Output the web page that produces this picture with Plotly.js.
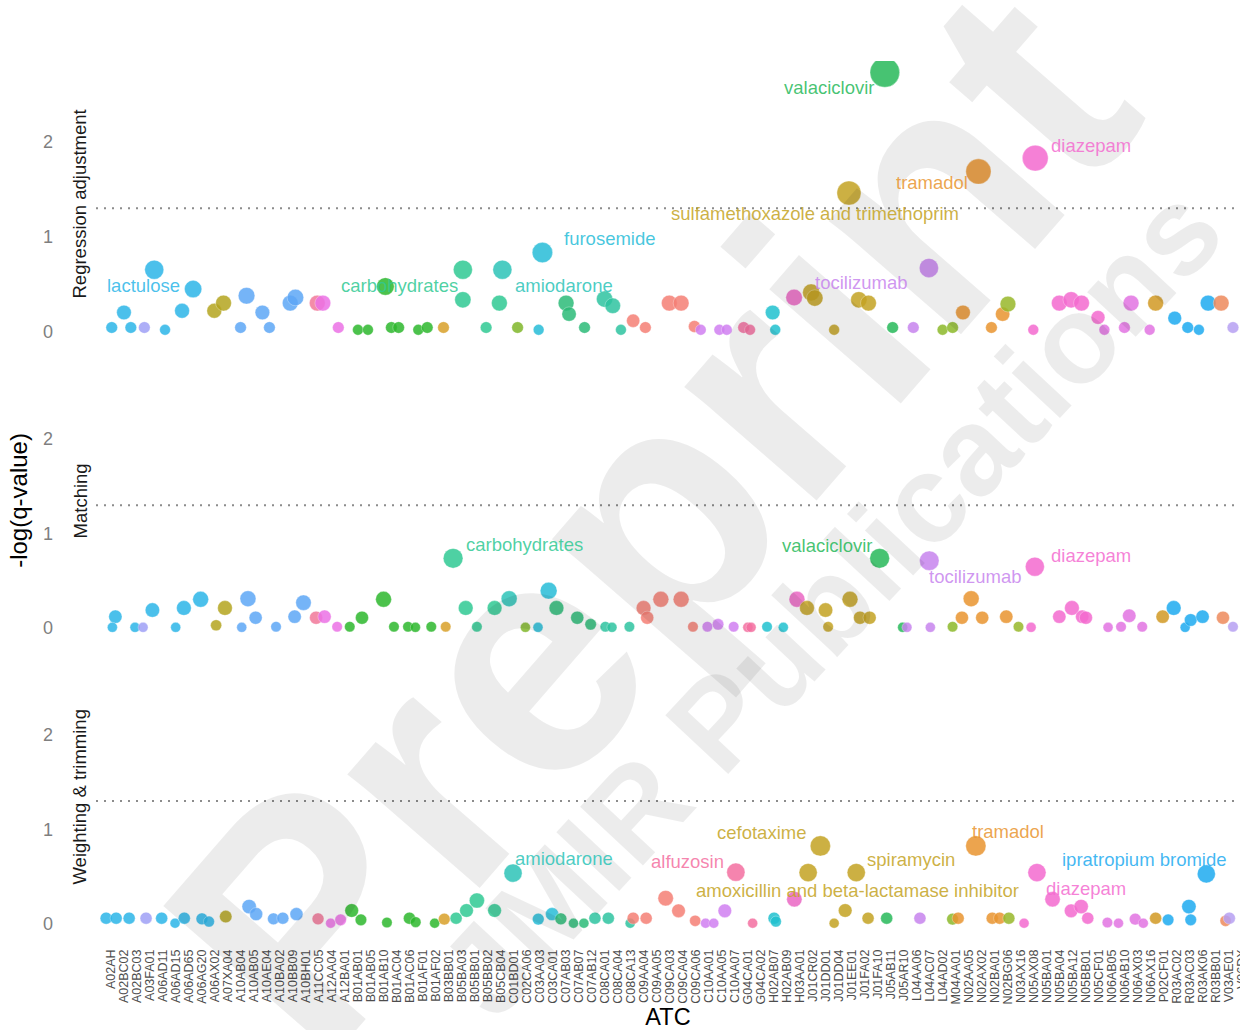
<!DOCTYPE html>
<html>
<head>
<meta charset="utf-8">
<script src="https://cdn.plot.ly/plotly-3.0.1.min.js"></script>
<style>
html,body{margin:0;padding:0;background:#ffffff;}
#chart{width:1240px;height:1030px;}
</style>
</head>
<body>
<div id="chart"></div>
<script>
// ---------- categories (ATC codes on the x axis) ----------
const atcCodes = ['A02AH','A02BC02','A02BC03','A03FA01','A06AD11','A06AD15','A06AD65','A06AG20','A06AX02','A07XA04',
  'A10AB04','A10AB05','A10AE04','A10BA02','A10BB09','A10BH01','A11CC05','A12AA04','A12BA01','B01AB01',
  'B01AB05','B01AB10','B01AC04','B01AC06','B01AF01','B01AF02','B03BB01','B05BA03','B05BB01','B05BB02',
  'B05CB04','C01BD01','C02CA06','C03AA03','C03CA01','C07AB03','C07AB07','C07AB12','C08CA01','C08CA04',
  'C08CA13','C09AA04','C09AA05','C09CA03','C09CA04','C09CA06','C10AA01','C10AA05','C10AA07','G04CA01',
  'G04CA02','H02AB07','H02AB09','H03AA01','J01CR02','J01DD01','J01DD04','J01EE01','J01FA02','J01FA10',
  'J05AB11','J05AR10','L04AA06','L04AC07','L04AD02','M04AA01','N02AA05','N02AX02','N02BA01','N02BG06',
  'N03AX16','N05AX08','N05BA01','N05BA04','N05BA12','N05BB01','N05CF01','N06AB05','N06AB10','N06AX03',
  'N06AX16','P02CF01','R03AC02','R03AC03','R03AK06','R03BB01','V03AE01','V06DX'];

const panelNames = ['Regression adjustment','Matching','Weighting & trimming'];
const threshold = 1.30; // -log10(0.05)

// ---------- Regression adjustment: jittered category position and -log(q) ----------
const regX = [0.61,2.08,3.12,4.71,1.55,3.88,6.87,6.02,8.50,9.21,10.98,10.52,12.20,12.74,14.34,14.74,16.42,16.85,18.04,19.55,
  20.32,22.12,22.68,21.66,24.19,24.88,26.13,27.62,27.62,29.41,30.66,30.43,31.83,33.45,33.74,35.56,35.79,36.98,38.52,39.15,
  39.78,40.72,41.66,
  43.50,44.41,45.43,45.92,47.35,47.92,49.22,49.71,51.45,51.65,53.10,54.41,54.69,56.18,57.32,58.08,58.82,60.08,60.68,62.27,
  63.47,64.52,65.29,66.09,67.28,68.28,69.14,69.55,71.50,71.65,73.50,74.41,75.21,76.48,76.97,78.51,79.02,80.45,80.91,82.38,
  83.38,84.24,84.95,85.95,86.86];
const regY = [0.045,0.045,0.045,0.021,0.203,0.653,0.450,0.221,0.221,0.302,0.379,0.045,0.203,0.045,0.302,0.361,0.302,0.302,0.045,0.021,
  0.021,0.045,0.045,0.477,0.021,0.045,0.045,0.653,0.337,0.045,0.653,0.302,0.045,0.021,0.834,0.302,0.186,0.045,0.344,0.274,
  0.021,0.116,0.045,
  0.302,0.302,0.056,0.021,0.021,0.021,0.045,0.021,0.203,0.021,0.361,0.414,0.355,0.021,1.460,0.337,0.302,2.730,0.045,0.045,
  0.671,0.021,0.045,0.203,1.687,0.045,0.186,0.292,0.021,1.828,0.302,0.337,0.302,0.151,0.021,0.045,0.302,0.021,0.302,0.144,
  0.045,0.021,0.302,0.302,0.045];

// ---------- Matching ----------
const matX = [0.89,0.66,2.40,3.02,3.74,5.53,6.16,7.45,8.64,9.32,10.61,11.09,11.68,13.25,14.68,15.36,16.33,16.98,17.95,18.92,
  19.86,21.52,22.32,23.40,23.97,25.19,26.30,26.87,27.84,28.70,30.06,31.18,32.43,33.40,34.22,34.82,36.42,37.45,38.58,39.09,
  40.43,41.52,41.80,42.85,
  44.41,45.32,46.43,47.25,48.45,49.54,49.79,51.02,52.27,53.32,54.09,55.52,55.72,57.40,58.17,58.91,59.68,61.45,61.78,63.50,
  63.58,65.29,66.01,66.72,67.57,69.42,70.36,71.33,71.62,73.50,74.47,75.26,75.55,77.25,78.25,78.88,79.88,81.45,82.30,83.18,
  83.61,84.52,86.09,86.86];
const matY = [0.120,0.007,0.007,0.007,0.190,0.007,0.212,0.304,0.029,0.212,0.007,0.310,0.109,0.014,0.120,0.268,0.109,0.120,0.014,0.014,
  0.109,0.304,0.014,0.014,0.007,0.014,0.014,0.738,0.212,0.014,0.212,0.310,0.007,0.007,0.395,0.212,0.109,0.039,0.014,0.007,
  0.014,0.212,0.109,0.304,
  0.304,0.014,0.014,0.039,0.014,0.007,0.007,0.014,0.007,0.304,0.212,0.190,0.014,0.304,0.109,0.109,0.738,0.007,0.007,0.712,
  0.007,0.014,0.109,0.310,0.109,0.120,0.014,0.007,0.649,0.120,0.212,0.120,0.109,0.007,0.014,0.130,0.014,0.120,0.212,0.007,
  0.085,0.120,0.109,0.014];

// ---------- Weighting & trimming ----------
const wtX = [0.18,0.95,1.95,3.25,4.45,5.48,6.19,7.55,8.09,9.38,11.18,11.72,13.05,13.77,14.82,16.48,17.45,18.22,19.07,19.78,
  21.78,23.51,23.99,25.45,26.19,27.10,27.90,28.70,30.06,31.48,33.42,34.48,35.16,36.13,36.93,37.78,38.81,40.49,40.72,41.72,
  43.22,
  44.21,45.49,46.29,46.92,47.77,48.62,49.91,51.56,51.70,53.12,55.12,54.18,56.18,57.03,57.88,58.79,60.22,62.78,65.29,65.72,
  67.08,68.34,68.91,69.62,70.79,71.78,72.98,74.41,75.18,75.69,77.20,78.05,79.34,79.96,80.91,81.87,83.47,83.61,84.81,86.29,
  86.58];
const wtY = [0.060,0.060,0.060,0.060,0.060,0.007,0.060,0.053,0.024,0.077,0.183,0.103,0.053,0.060,0.103,0.053,0.007,0.042,0.141,0.042,
  0.014,0.060,0.018,0.007,0.050,0.060,0.141,0.247,0.141,0.537,0.050,0.103,0.053,0.007,0.007,0.060,0.060,0.007,0.060,0.060,
  0.272,
  0.138,0.032,0.007,0.007,0.138,0.547,0.007,0.060,0.024,0.261,0.825,0.543,0.007,0.141,0.543,0.060,0.060,0.060,0.050,0.060,
  0.825,0.060,0.060,0.060,0.007,0.543,0.261,0.138,0.183,0.060,0.014,0.007,0.050,0.007,0.060,0.042,0.183,0.042,0.529,0.032,
  0.060];

// ---------- labelled drugs ----------
const regLabText = ['lactulose','carbohydrates','furosemide','amiodarone','valaciclovir','diazepam','tramadol','sulfamethoxazole and trimethoprim','tocilizumab'];
const regLabCode = ['A06AD11','B05BA03','C03CA01','C01BD01','J05AB11','N05BA01','N02AX02','J01EE01','L04AC07'];
const regLabX = [3.02,22.71,38.90,35.40,55.82,75.94,63.71,54.67,58.28];
const regLabY = [0.484,0.484,0.979,0.484,2.568,1.958,1.568,1.242,0.516];

const matLabText = ['carbohydrates','valaciclovir','tocilizumab','diazepam'];
const matLabCode = ['B05BA03','J05AB11','L04AC07','N05BA01'];
const matLabX = [32.36,55.63,67.05,75.94];
const matLabY = [0.889,0.878,0.540,0.772];

const wtLabText = ['amiodarone','alfuzosin','cefotaxime','spiramycin','amoxicillin and beta-lactamase inhibitor','tramadol','ipratropium bromide','diazepam'];
const wtLabCode = ['C01BD01','G04CA01','J01DD01','J01FA02','J01CR02','N02AX02','R03BB01','N05BA01'];
const wtLabX = [35.40,44.90,50.59,62.13,57.98,69.59,80.02,75.52];
const wtLabY = [0.688,0.656,0.963,0.677,0.349,0.974,0.677,0.370];

// ---------- style ----------
const groupColors = {
  A02:'#2cb6e8', A03:'#9fa0f6', A06:'#2cb6e8', A07:'#b4a51f', A10:'#5ea7f6', A11:'#f2789a', A12:'#ec72e6',
  B01:'#2db82d', B03:'#d9a12a', B05:'#30c993', C01:'#2dc4b8', C02:'#80b72a', C03:'#27bdd8', C07:'#2cbb78',
  C08:'#2ec4a0', C09:'#f57f75', C10:'#d17ff1', G04:'#f46fa0', H02:'#21c1cf', H03:'#ea67c4', J01:'#c4a323',
  J05:'#27b95a', L04:'#c784ee', M04:'#8cb92a', N02:'#e99530', N03:'#98b82a', N05:'#f46bd0', N06:'#e274e2',
  P02:'#d29a24', R03:'#1eabf0', V03:'#ee8a5c', V06:'#b7a0f3'
};
function codeColor(code){ return groupColors[code.slice(0,3)] || '#888888'; }
function posColor(x){
  const i = Math.max(0, Math.min(atcCodes.length-1, Math.round(x)));
  return codeColor(atcCodes[i]);
}
function rgba(hex, a){
  const n = parseInt(hex.slice(1),16);
  return 'rgba('+((n>>16)&255)+','+((n>>8)&255)+','+(n&255)+','+a+')';
}
function sizeOf(v){ return 9 + 12.5*Math.sqrt(Math.max(v,0)); }

const FONT = 'Liberation Sans, Arial, sans-serif';
const panels = [
  {x:regX, y:regY, ax:'y',  lt:regLabText, lc:regLabCode, lx:regLabX, ly:regLabY},
  {x:matX, y:matY, ax:'y2', lt:matLabText, lc:matLabCode, lx:matLabX, ly:matLabY},
  {x:wtX,  y:wtY,  ax:'y3', lt:wtLabText,  lc:wtLabCode,  lx:wtLabX,  ly:wtLabY}
];

const traces = panels.map((p, k) => ({
  type:'scatter', mode:'markers', name:panelNames[k],
  x:p.x, y:p.y, xaxis:'x', yaxis:p.ax,
  text:p.x.map(v => atcCodes[Math.max(0,Math.min(87,Math.round(v)))]),
  hovertemplate:'%{text}<br>%{y:.2f}<extra></extra>',
  marker:{
    color:p.x.map(posColor),
    size:p.y.map(sizeOf),
    opacity:0.85,
    line:{width:0.6, color:'rgba(255,255,255,0.6)'}
  },
  showlegend:false
}));

// ---------- annotations ----------
const annotations = [];
// watermark
annotations.push({xref:'paper', yref:'paper', x:0.484, y:0.477, text:'Preprint', showarrow:false,
  textangle:-49, xanchor:'center', yanchor:'middle',
  font:{family:FONT, size:330, weight:700, color:'rgba(0,0,0,0.075)'}});
annotations.push({xref:'paper', yref:'paper', x:0.642, y:0.385, text:'JMIR Publications', showarrow:false,
  textangle:-47, xanchor:'center', yanchor:'middle',
  font:{family:FONT, size:125, weight:700, color:'rgba(0,0,0,0.075)'}});

// drug labels
panels.forEach(p => {
  p.lt.forEach((t, i) => {
    annotations.push({xref:'x', yref:p.ax, x:p.lx[i], y:p.ly[i], text:t, showarrow:false,
      xanchor:'center', yanchor:'middle',
      font:{family:FONT, size:18.5, color:rgba(codeColor(p.lc[i]),0.85)}});
  });
});

// facet strip labels
const stripY = [0.8375, 0.4989, 0.1613];
panelNames.forEach((n, k) => {
  annotations.push({xref:'paper', yref:'paper', x:-0.014, y:stripY[k], text:n, showarrow:false,
    textangle:-90, xanchor:'center', yanchor:'middle',
    font:{family:FONT, size:18.5, color:'#1a1a1a'}});
});

// threshold lines
const shapes = ['y','y2','y3'].map(a => ({
  type:'line', xref:'paper', x0:0, x1:1, yref:a, y0:threshold, y1:threshold,
  line:{color:'#8c8c8c', width:2, dash:'2px,6px'}, layer:'below'
}));

const yBase = {
  range:[-0.15,2.85], tickvals:[0,1,2], ticktext:['0','1','2'],
  showgrid:false, zeroline:false, showline:false, ticks:'',
  tickfont:{family:FONT, size:18, color:'#7f7f7f'}, ticklabelstandoff:42, fixedrange:true
};

const layout = {
  width:1240, height:1030,
  margin:{l:96, r:0, t:61, b:92},
  paper_bgcolor:'#ffffff', plot_bgcolor:'#ffffff',
  font:{family:FONT},
  showlegend:false,
  xaxis:{
    anchor:'y3', range:[-0.6,87.4],
    tickvals:atcCodes.map((c,i)=>i), ticktext:atcCodes, tickangle:-90,
    tickfont:{family:FONT, size:12.5, color:'#4d4d4d'},
    ticklabelshift:7, ticklabelstandoff:8, ticklabeloverflow:'allow',
    showgrid:false, zeroline:false, showline:false, ticks:'',
    title:{text:'ATC', font:{family:FONT, size:23.5, color:'#000000'}, standoff:4}
  },
  yaxis:Object.assign({}, yBase, {domain:[0.675,1]}),
  yaxis2:Object.assign({}, yBase, {domain:[0.3373,0.6605],
    title:{text:'-log(q-value)', font:{family:FONT, size:24, color:'#000000'}, standoff:8}}),
  yaxis3:Object.assign({}, yBase, {domain:[0,0.323]}),
  annotations:annotations,
  shapes:shapes
};

Plotly.newPlot('chart', traces, layout, {displayModeBar:false, staticPlot:false});
</script>
</body>
</html>
